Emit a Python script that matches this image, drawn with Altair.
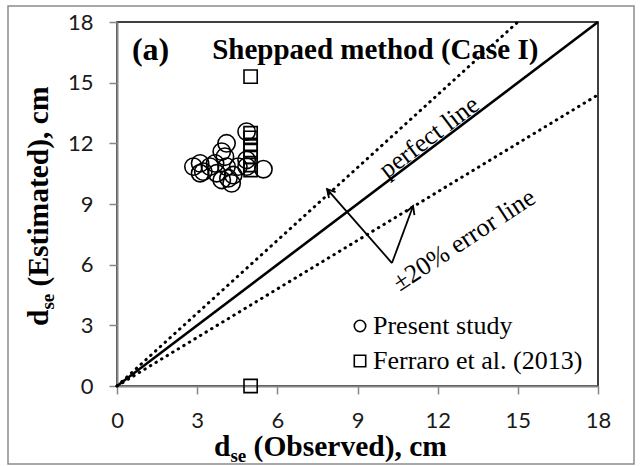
import math
import altair as alt
import pandas as pd

# ---------------- data ----------------
present_x = [2.86, 3.11, 3.23, 3.48, 3.73, 3.92, 4.17, 4.29, 4.35, 4.04,
             4.10, 3.92, 4.85, 4.85, 5.48, 3.11, 4.54, 3.67, 4.10, 4.85]
present_y = [10.85, 11.01, 10.60, 10.85, 10.52, 10.19, 10.27, 10.02, 10.43, 11.34,
             12.00, 11.59, 12.58, 11.18, 10.72, 10.52, 10.85, 11.01, 10.85, 10.85]
ferraro_x = [5.0, 5.0, 5.0, 5.0, 5.0, 5.0, 5.0, 5.0, 5.0]
ferraro_y = [15.3, 0.0, 12.5, 12.27, 11.92, 11.67, 11.33, 10.93, 10.68]
series_names = ["Present study", "Ferraro et al. (2013)"]

x_ticks = [0, 3, 6, 9, 12, 15, 18]
y_ticks = [0, 3, 6, 9, 12, 15, 18]

perfect_x = [0, 18]
perfect_y = [0, 18]
upper_x = [0, 15]
upper_y = [0, 18]
lower_x = [0, 18]
lower_y = [0, 14.4]

arrow_from_x = [10.29, 10.29]
arrow_from_y = [6.08, 6.08]
arrow_to_x = [7.86, 11.08]
arrow_to_y = [9.74, 8.90]

ann_text = ["perfect line", "\u00b120% error line"]
ann_x = [11.68, 12.99]
ann_y = [12.31, 7.22]

panel_label = "(a)"
panel_title = "Sheppaed method (Case I)"
panel_x = [0.56, 3.56]
panel_y = [16.62, 16.62]

# ---------------- layout ----------------
W, H = 481, 364
PX = W / 18.0
PY = H / 18.0
SERIF = "Liberation Serif, Times New Roman, serif"
GRAY = "#868686"

xs = alt.Scale(domain=[0, 18], nice=False, zero=False)
ys = alt.Scale(domain=[0, 18], nice=False, zero=False)
xaxis = alt.Axis(values=x_ticks, title=None, grid=False, domainColor=GRAY, domainWidth=2,
                 tickColor=GRAY, tickWidth=1.5, tickSize=8, labelFont="Lato", labelFontSize=22,
                 labelColor="#1a1a1a", labelPadding=16, labelFlush=False, labelOverlap=False)
yaxis = alt.Axis(values=y_ticks, title=None, grid=False, domainColor=GRAY, domainWidth=2,
                 tickColor=GRAY, tickWidth=1.5, tickSize=8, labelFont="Lato", labelFontSize=22,
                 labelColor="#1a1a1a", labelPadding=16, labelFlush=False, labelOverlap=False)


def X(f="x"):
    return alt.X(f"{f}:Q", scale=xs, axis=xaxis)


def Y(f="y"):
    return alt.Y(f"{f}:Q", scale=ys, axis=yaxis)


present_df = pd.DataFrame({"x": present_x, "y": present_y,
                           "series": [series_names[0]] * len(present_x)})
ferraro_df = pd.DataFrame({"x": ferraro_x, "y": ferraro_y,
                           "series": [series_names[1]] * len(ferraro_x)})

solid_df = pd.DataFrame({"x": perfect_x, "y": perfect_y})
dotted_df = pd.DataFrame({"x": upper_x + lower_x, "y": upper_y + lower_y,
                          "g": ["u", "u", "l", "l"]})

arr = pd.DataFrame({"x": arrow_from_x, "y": arrow_from_y, "x2": arrow_to_x, "y2": arrow_to_y})
arr["angle"] = [
    (math.degrees(math.atan2((x2 - x1) * PX, (y2 - y1) * PY)) + 360) % 360
    for x1, y1, x2, y2 in zip(arrow_from_x, arrow_from_y, arrow_to_x, arrow_to_y)
]

ann_angles = [
    360 - math.degrees(math.atan(1.0 * PY / PX)),
    360 - math.degrees(math.atan(0.8 * PY / PX)) - 2,
]

solid = alt.Chart(solid_df).mark_line(color="black", strokeWidth=2.6).encode(x=X(), y=Y())
dotted = alt.Chart(dotted_df).mark_line(color="black", strokeWidth=3, strokeDash=[0.5, 6],
                                        strokeCap="round").encode(x=X(), y=Y(), detail="g:N")

arrows = alt.Chart(arr).mark_rule(color="black", strokeWidth=1.8).encode(
    x=X(), y=Y(), x2="x2:Q", y2="y2:Q")
heads = alt.Chart(arr).mark_point(shape="M-0.55,1L0,0L0.55,1", filled=False, color="black",
                                  strokeWidth=1.8, size=256, opacity=1).encode(
    x=X("x2"), y=Y("y2"), angle=alt.Angle("angle:Q", scale=None))

shape_enc = alt.Shape(
    "series:N",
    scale=alt.Scale(domain=series_names, range=["circle", "square"]),
    legend=alt.Legend(orient="none", legendX=230, legendY=291, title=None,
                      labelFont=SERIF, labelFontSize=26, labelColor="black", labelLimit=0,
                      symbolStrokeColor="black", symbolFillColor="white", symbolStrokeWidth=1.6,
                      symbolSize=130, rowPadding=9, labelOffset=0, padding=0),
)

sc_present = alt.Chart(present_df).mark_point(filled=False, strokeWidth=1.6, opacity=1,
                                              color="black", size=300).encode(
    x=X(), y=Y(), shape=shape_enc)
sc_ferraro = alt.Chart(ferraro_df).mark_point(filled=False, strokeWidth=1.6, opacity=1,
                                              color="black", size=175).encode(
    x=X(), y=Y(), shape=shape_enc)

ann_layers = []
for t, ax_, ay_, ang in zip(ann_text, ann_x, ann_y, ann_angles):
    d = pd.DataFrame({"x": [ax_], "y": [ay_]})
    ann_layers.append(
        alt.Chart(d).mark_text(text=t, font=SERIF, fontSize=26, fill="black",
                               align="center", baseline="middle", angle=ang).encode(x=X(), y=Y())
    )

pa = pd.DataFrame({"x": [panel_x[0]], "y": [panel_y[0]]})
pt = pd.DataFrame({"x": [panel_x[1]], "y": [panel_y[1]]})
panel_a = alt.Chart(pa).mark_text(text=panel_label, font=SERIF, fontSize=32, fontWeight="bold",
                                  fill="black", align="left", baseline="middle").encode(x=X(), y=Y())
panel_t = alt.Chart(pt).mark_text(text=panel_title, font=SERIF, fontSize=29, fontWeight="bold",
                                  fill="black", align="left", baseline="middle").encode(x=X(), y=Y())

# axis titles with subscript (pixel positions relative to plot origin)
one = pd.DataFrame({"a": [0]})
TF = 29.5
SF = 19
d_w = 0.556 * TF
se_w = (0.389 + 0.444) * SF
sp_w = 0.25 * TF
xt0 = 97
xt_base = 434
xt_d = alt.Chart(one).mark_text(text="d", font=SERIF, fontSize=TF, fontWeight="bold", fill="black",
                                align="left", baseline="alphabetic").encode(
    x=alt.value(xt0), y=alt.value(xt_base))
xt_se = alt.Chart(one).mark_text(text="se", font=SERIF, fontSize=SF, fontWeight="bold", fill="black",
                                 align="left", baseline="alphabetic").encode(
    x=alt.value(xt0 + d_w), y=alt.value(xt_base + 6))
xt_rest = alt.Chart(one).mark_text(text="(Observed), cm", font=SERIF, fontSize=TF, fontWeight="bold",
                                   fill="black", align="left", baseline="alphabetic").encode(
    x=alt.value(xt0 + d_w + se_w + sp_w), y=alt.value(xt_base))

yt_base = -69
yt0 = 304
yt_d = alt.Chart(one).mark_text(text="d", font=SERIF, fontSize=TF, fontWeight="bold", fill="black",
                                align="left", baseline="alphabetic", angle=270).encode(
    x=alt.value(yt_base), y=alt.value(yt0))
yt_se = alt.Chart(one).mark_text(text="se", font=SERIF, fontSize=SF, fontWeight="bold", fill="black",
                                 align="left", baseline="alphabetic", angle=270).encode(
    x=alt.value(yt_base + 6), y=alt.value(yt0 - d_w))
yt_rest = alt.Chart(one).mark_text(text="(Estimated), cm", font=SERIF, fontSize=TF, fontWeight="bold",
                                   fill="black", align="left", baseline="alphabetic", angle=270).encode(
    x=alt.value(yt_base), y=alt.value(yt0 - d_w - se_w - sp_w))

frame = alt.Chart(one).mark_rect(fill=None, fillOpacity=0, stroke="#8c8c8c", strokeWidth=1.5).encode(
    x=alt.value(-109), x2=alt.value(517), y=alt.value(-16), y2=alt.value(442))

chart = alt.layer(
    frame, dotted, solid, arrows, heads, sc_present, sc_ferraro, *ann_layers, panel_a, panel_t,
    xt_d, xt_se, xt_rest, yt_d, yt_se, yt_rest,
).properties(
    width=W, height=H,
    autosize=alt.AutoSizeParams(type="none"),
    padding={"left": 117, "top": 22, "right": 43, "bottom": 80},
    background="white",
).configure_view(stroke="black", strokeWidth=1.5)

chart.save("out.html", embed_options={"renderer": "svg", "actions": False})
